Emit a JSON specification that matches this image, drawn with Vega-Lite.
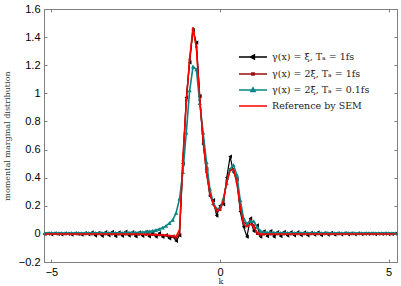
{
"$schema": "https://vega.github.io/schema/vega-lite/v6.json",
"width": 353, "height": 253,
"autosize": {"type": "none"},
"padding": {"left": 44, "top": 9, "right": 4, "bottom": 24},
"background": "white",
"config": {"view": {"stroke": "#808080", "strokeWidth": 1}, "font": "Liberation Sans",
  "axis": {"grid": false, "domainColor": "#808080", "tickColor": "#808080", "labelColor": "#000", "labelFont": "Liberation Sans", "labelFontSize": 11, "tickSize": -3, "titleFont": "DejaVu Serif", "titleFontWeight": "normal", "titleFontSize": 8, "titleColor": "#333"}},
"data": {"values": [
{"k":-5.2,"a":0.000,"b":-0.002,"c":0.006,"r":0},
{"k":-5.1,"a":0.002,"b":0.000,"c":0.006,"r":0},
{"k":-5.0,"a":-0.003,"b":-0.002,"c":0.007,"r":0},
{"k":-4.9,"a":0.004,"b":0.001,"c":0.006,"r":0},
{"k":-4.8,"a":0.000,"b":-0.002,"c":0.006,"r":0},
{"k":-4.7,"a":-0.004,"b":0.000,"c":0.007,"r":0},
{"k":-4.6,"a":0.003,"b":-0.002,"c":0.006,"r":0},
{"k":-4.5,"a":0.000,"b":0.001,"c":0.006,"r":0},
{"k":-4.4,"a":-0.005,"b":-0.002,"c":0.007,"r":0},
{"k":-4.3,"a":0.004,"b":0.000,"c":0.006,"r":0},
{"k":-4.2,"a":0.000,"b":-0.003,"c":0.007,"r":0},
{"k":-4.1,"a":-0.006,"b":0.001,"c":0.006,"r":0},
{"k":-4.0,"a":0.005,"b":-0.002,"c":0.007,"r":0},
{"k":-3.9,"a":-0.004,"b":0.000,"c":0.007,"r":0},
{"k":-3.8,"a":0.010,"b":-0.003,"c":0.006,"r":0},
{"k":-3.7,"a":-0.012,"b":0.001,"c":0.007,"r":0},
{"k":-3.6,"a":0.008,"b":-0.002,"c":0.007,"r":0},
{"k":-3.5,"a":-0.014,"b":-0.001,"c":0.007,"r":0},
{"k":-3.4,"a":0.012,"b":-0.003,"c":0.007,"r":0},
{"k":-3.3,"a":-0.010,"b":0.000,"c":0.008,"r":0},
{"k":-3.2,"a":0.014,"b":-0.003,"c":0.007,"r":0},
{"k":-3.1,"a":-0.016,"b":-0.001,"c":0.008,"r":0},
{"k":-3.0,"a":0.010,"b":-0.004,"c":0.008,"r":0},
{"k":-2.9,"a":-0.014,"b":0.000,"c":0.008,"r":0},
{"k":-2.8,"a":0.016,"b":-0.004,"c":0.009,"r":0},
{"k":-2.7,"a":-0.012,"b":-0.001,"c":0.009,"r":0},
{"k":-2.6,"a":0.012,"b":-0.004,"c":0.009,"r":0},
{"k":-2.5,"a":-0.018,"b":-0.002,"c":0.010,"r":0},
{"k":-2.4,"a":0.010,"b":-0.005,"c":0.011,"r":0},
{"k":-2.3,"a":-0.014,"b":-0.002,"c":0.013,"r":-0.002},
{"k":-2.2,"a":0.014,"b":-0.006,"c":0.015,"r":-0.003},
{"k":-2.1,"a":-0.018,"b":-0.003,"c":0.018,"r":-0.004},
{"k":-2.0,"a":0.008,"b":-0.007,"c":0.022,"r":-0.005},
{"k":-1.9,"a":-0.020,"b":-0.005,"c":0.027,"r":-0.006},
{"k":-1.8,"a":0.006,"b":-0.009,"c":0.034,"r":-0.007},
{"k":-1.7,"a":-0.022,"b":-0.008,"c":0.044,"r":-0.008},
{"k":-1.6,"a":-0.008,"b":-0.012,"c":0.057,"r":-0.010},
{"k":-1.5,"a":-0.032,"b":-0.015,"c":0.076,"r":-0.012},
{"k":-1.4,"a":-0.018,"b":-0.020,"c":0.100,"r":-0.015},
{"k":-1.3,"a":-0.050,"b":-0.030,"c":0.150,"r":-0.018},
{"k":-1.2,"a":-0.010,"b":0.000,"c":0.250,"r":0.030},
{"k":-1.1,"a":0.500,"b":0.520,"c":0.440,"r":0.550},
{"k":-1.0,"a":0.970,"b":0.950,"c":0.720,"r":0.930},
{"k":-0.9,"a":1.220,"b":1.240,"c":1.020,"r":1.250},
{"k":-0.8,"a":1.450,"b":1.460,"c":1.190,"r":1.470},
{"k":-0.7,"a":1.360,"b":1.330,"c":1.170,"r":1.320},
{"k":-0.6,"a":0.980,"b":0.950,"c":0.930,"r":0.960},
{"k":-0.5,"a":0.640,"b":0.660,"c":0.720,"r":0.670},
{"k":-0.4,"a":0.460,"b":0.440,"c":0.510,"r":0.430},
{"k":-0.3,"a":0.270,"b":0.280,"c":0.320,"r":0.290},
{"k":-0.2,"a":0.240,"b":0.210,"c":0.220,"r":0.210},
{"k":-0.1,"a":0.130,"b":0.160,"c":0.180,"r":0.170},
{"k":0.0,"a":0.200,"b":0.170,"c":0.180,"r":0.170},
{"k":0.1,"a":0.210,"b":0.230,"c":0.250,"r":0.240},
{"k":0.2,"a":0.400,"b":0.380,"c":0.360,"r":0.370},
{"k":0.3,"a":0.550,"b":0.460,"c":0.460,"r":0.450},
{"k":0.4,"a":0.440,"b":0.460,"c":0.490,"r":0.460},
{"k":0.5,"a":0.390,"b":0.370,"c":0.420,"r":0.360},
{"k":0.6,"a":0.160,"b":0.200,"c":0.240,"r":0.190},
{"k":0.7,"a":0.050,"b":0.080,"c":0.110,"r":0.070},
{"k":0.8,"a":-0.020,"b":0.070,"c":0.070,"r":0.050},
{"k":0.9,"a":0.110,"b":0.100,"c":0.090,"r":0.070},
{"k":1.0,"a":0.020,"b":0.060,"c":0.090,"r":0.050},
{"k":1.1,"a":0.060,"b":0.000,"c":0.050,"r":0.010},
{"k":1.2,"a":-0.020,"b":-0.010,"c":0.020,"r":0.000},
{"k":1.3,"a":0.018,"b":-0.004,"c":0.013,"r":0},
{"k":1.4,"a":-0.016,"b":-0.002,"c":0.010,"r":0},
{"k":1.5,"a":0.020,"b":-0.004,"c":0.009,"r":0},
{"k":1.6,"a":-0.020,"b":-0.001,"c":0.009,"r":0},
{"k":1.7,"a":0.012,"b":-0.003,"c":0.008,"r":0},
{"k":1.8,"a":-0.016,"b":0.000,"c":0.008,"r":0},
{"k":1.9,"a":0.014,"b":-0.003,"c":0.008,"r":0},
{"k":2.0,"a":-0.012,"b":-0.001,"c":0.008,"r":0},
{"k":2.1,"a":0.012,"b":-0.003,"c":0.007,"r":0},
{"k":2.2,"a":-0.010,"b":0.000,"c":0.007,"r":0},
{"k":2.3,"a":0.012,"b":-0.002,"c":0.007,"r":0},
{"k":2.4,"a":-0.008,"b":0.000,"c":0.007,"r":0},
{"k":2.5,"a":0.010,"b":-0.002,"c":0.007,"r":0},
{"k":2.6,"a":-0.010,"b":0.001,"c":0.007,"r":0},
{"k":2.7,"a":0.008,"b":-0.002,"c":0.006,"r":0},
{"k":2.8,"a":-0.006,"b":0.000,"c":0.007,"r":0},
{"k":2.9,"a":0.010,"b":-0.002,"c":0.006,"r":0},
{"k":3.0,"a":-0.008,"b":0.000,"c":0.007,"r":0},
{"k":3.1,"a":0.006,"b":-0.002,"c":0.006,"r":0},
{"k":3.2,"a":-0.005,"b":0.001,"c":0.007,"r":0},
{"k":3.3,"a":0.008,"b":-0.002,"c":0.006,"r":0},
{"k":3.4,"a":-0.006,"b":0.000,"c":0.006,"r":0},
{"k":3.5,"a":0.004,"b":-0.002,"c":0.007,"r":0},
{"k":3.6,"a":-0.004,"b":0.000,"c":0.006,"r":0},
{"k":3.7,"a":0.005,"b":-0.001,"c":0.006,"r":0},
{"k":3.8,"a":-0.003,"b":0.000,"c":0.007,"r":0},
{"k":3.9,"a":0.004,"b":-0.002,"c":0.006,"r":0},
{"k":4.0,"a":-0.003,"b":0.000,"c":0.006,"r":0},
{"k":4.1,"a":0.003,"b":-0.001,"c":0.006,"r":0},
{"k":4.2,"a":-0.002,"b":0.000,"c":0.006,"r":0},
{"k":4.3,"a":0.002,"b":-0.001,"c":0.006,"r":0},
{"k":4.4,"a":0.000,"b":0.000,"c":0.006,"r":0},
{"k":4.5,"a":0.002,"b":-0.001,"c":0.006,"r":0},
{"k":4.6,"a":-0.002,"b":0.000,"c":0.006,"r":0},
{"k":4.7,"a":0.001,"b":-0.001,"c":0.006,"r":0},
{"k":4.8,"a":0.000,"b":0.000,"c":0.006,"r":0},
{"k":4.9,"a":0.002,"b":-0.001,"c":0.006,"r":0},
{"k":5.0,"a":-0.001,"b":0.000,"c":0.006,"r":0},
{"k":5.1,"a":0.000,"b":-0.001,"c":0.006,"r":0},
{"k":5.2,"a":0.001,"b":0.000,"c":0.006,"r":0}
]},
"transform": [{"fold": ["a", "b", "c", "r"], "as": ["s", "v"]}],
"encoding": {
  "color": {"field": "s", "type": "nominal",
    "scale": {"domain": ["a", "b", "c", "r"], "range": ["#000000", "#9a0e0e", "#0b8585", "#ff0000"]},
    "legend": {"orient": "none", "legendX": 201, "legendY": 40, "title": null, "padding": 0,
      "symbolSize": 196, "symbolStrokeWidth": 1.5, "labelFont": "DejaVu Serif", "labelFontSize": 9.5, "labelColor": "#222", "labelOffset": 11, "rowPadding": 3,
      "labelExpr": "datum.value == 'a' ? 'γ(x) = ξ̄, Tₐ = 1fs' : datum.value == 'b' ? 'γ(x) = 2ξ̄, Tₐ = 1fs' : datum.value == 'c' ? 'γ(x) = 2ξ̄, Tₐ = 0.1fs' : 'Reference by SEM'",
      "encode": {"symbols": {"update": {
        "shape": {"signal": "datum.value == 'a' ? 'M-2,0H2M-0.35,0L0.2,-0.3L0.2,0.3Z' : datum.value == 'b' ? 'M-2,0H2M-0.16,-0.16H0.16V0.16H-0.16Z' : datum.value == 'c' ? 'M-2,0H2M0,-0.32L0.3,0.2L-0.3,0.2Z' : 'M-2,0H2'"},
        "fill": {"scale": "color", "field": "value"},
        "stroke": {"scale": "color", "field": "value"},
        "strokeWidth": {"value": 1.5},
        "opacity": {"value": 1}}}}}
  }
},
"resolve": {"axis": {"x": "independent", "y": "independent"}},
"layer": [
  {"transform": [{"filter": "datum.s == 'a'"}],
   "mark": {"type": "line", "strokeWidth": 1.2, "point": {"shape": "triangle-left", "size": 18, "filled": true}},
   "encoding": {
     "x": {"field": "k", "type": "quantitative", "scale": {"domain": [-5.22, 5.25], "nice": false},
       "axis": {"orient": "bottom", "values": [-5, 0, 5], "title": "k", "labelPadding": 7, "titlePadding": 0}},
     "y": {"field": "v", "type": "quantitative", "scale": {"domain": [-0.2, 1.6], "nice": false},
       "axis": {"orient": "left", "values": [-0.2, 0, 0.2, 0.4, 0.6, 0.8, 1, 1.2, 1.4, 1.6], "format": ".1~f", "title": "momental marginal distribution", "labelPadding": 7, "titlePadding": 7}}
   }},
  {"transform": [{"filter": "datum.s == 'b'"}],
   "mark": {"type": "line", "strokeWidth": 1.3, "point": {"shape": "square", "size": 5, "filled": true}},
   "encoding": {
     "x": {"field": "k", "type": "quantitative", "axis": null},
     "y": {"field": "v", "type": "quantitative", "axis": null}
   }},
  {"transform": [{"filter": "datum.s == 'c'"}],
   "mark": {"type": "line", "strokeWidth": 1.6, "point": {"shape": "triangle-up", "size": 18, "filled": true}},
   "encoding": {
     "x": {"field": "k", "type": "quantitative", "axis": null},
     "y": {"field": "v", "type": "quantitative", "axis": null}
   }},
  {"transform": [{"filter": "datum.s == 'r'"}],
   "mark": {"type": "line", "strokeWidth": 1.5},
   "encoding": {
     "x": {"field": "k", "type": "quantitative",
       "axis": {"orient": "top", "values": [-5, 0, 5], "labels": false, "title": null}},
     "y": {"field": "v", "type": "quantitative",
       "axis": {"orient": "right", "values": [-0.2, 0, 0.2, 0.4, 0.6, 0.8, 1, 1.2, 1.4, 1.6], "labels": false, "title": null}}
   }}
]
}
